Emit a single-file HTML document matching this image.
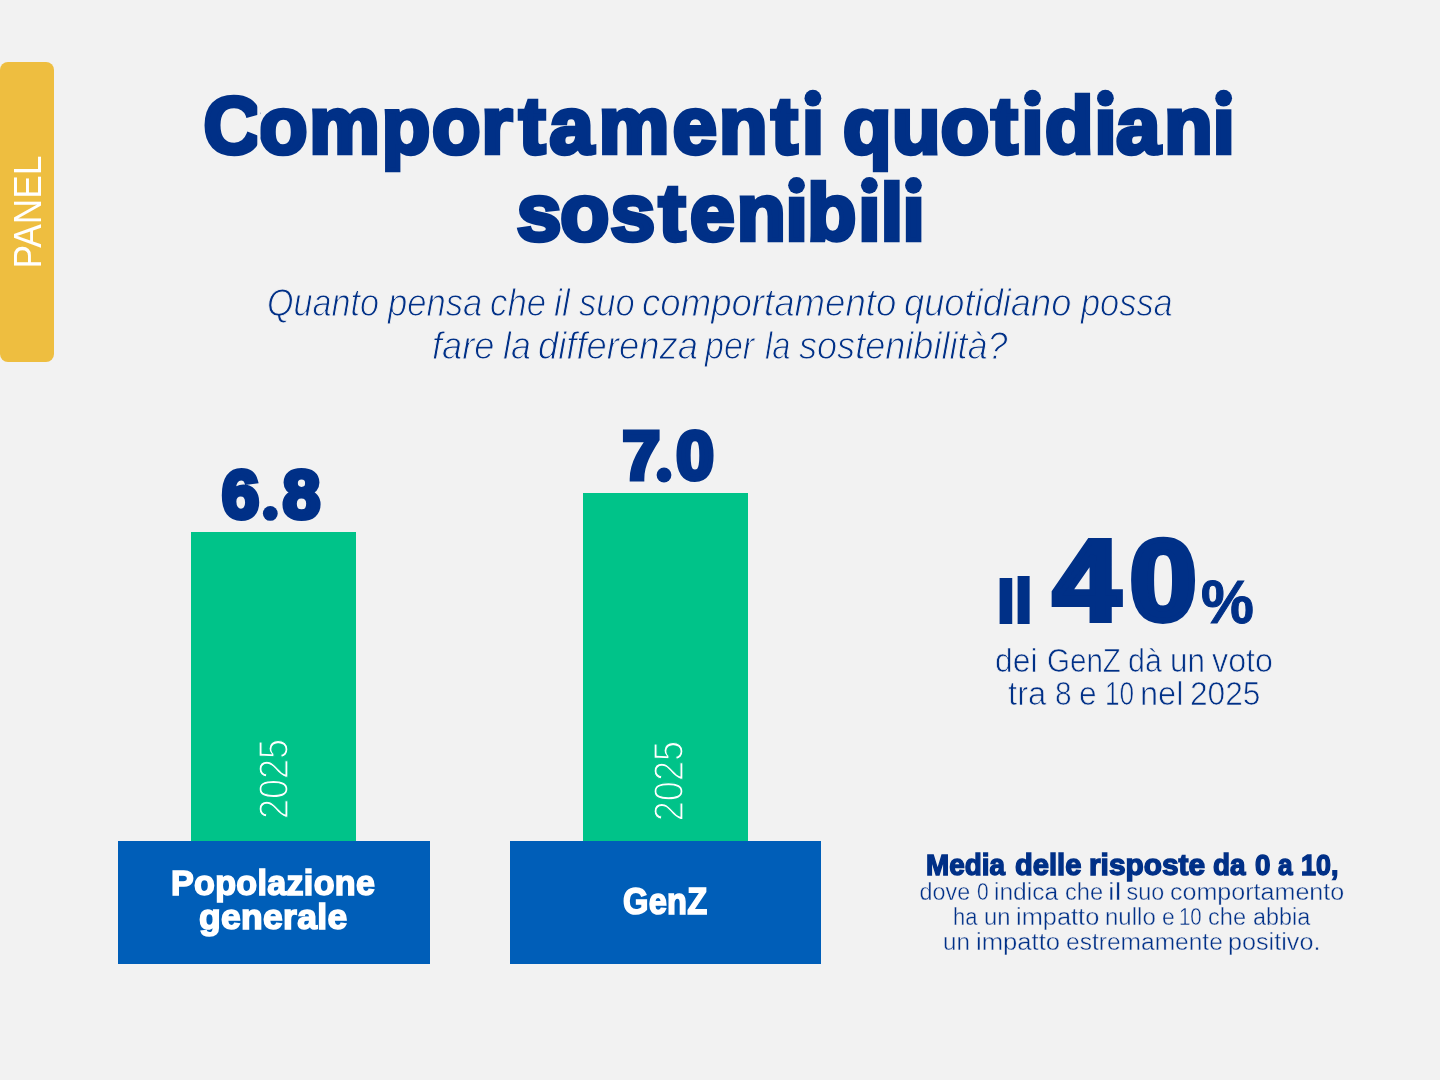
<!DOCTYPE html>
<html lang="it"><head><meta charset="utf-8"><title>Comportamenti quotidiani sostenibili</title>
<style>
html,body{margin:0;padding:0}
body{width:1440px;height:1080px;background:#f2f2f2;position:relative;overflow:hidden;font-family:"Liberation Sans",sans-serif}
.ln{margin:0;padding:0}
.t{position:absolute;display:block;white-space:nowrap;line-height:normal;margin:0;padding:0}
.r{position:absolute}
.big{left:0;top:0;font-weight:700;fill:#003087;pointer-events:none}
</style></head><body>
<aside class="tab"><div class="r" style="left:0px;top:62px;width:54px;height:299.6px;background:#eebe40;border-radius:8px"></div><p class="ln" style="color:#ffffff"><span class="t" style="left:41.4px;top:232.87px;font-size:39.33px;transform-origin:0 35.59px;transform:rotate(-90deg) scaleX(0.8969)">PANEL</span></p></aside>
<header><svg class="r big title" width="1440" height="1080" viewBox="0 0 1440 1080"><text transform="translate(0 152.75) scale(0.9913 1)" x="205.38 261.33 311.91 385.22 435.92 485.78 523.46 554.31 603.91 678.57 725.35 778.07 809.03" y="0" font-size="80" stroke="#003087" stroke-width="4.5">Comportamenti</text> <text transform="translate(0 152.75) scale(0.9903 1)" x="851.2 900.63 949.97 1000.93 1031.57 1055.35 1105.19 1127.09 1175.6 1224.59" y="0" font-size="80" stroke="#003087" stroke-width="4.5">quotidiani</text> <text transform="translate(0 240.15) scale(1.0030 1)" x="515.22 558.7 608.66 656.71 687.86 734.61 783.16 804.95 855.74 878.02 899.71" y="0" font-size="80" stroke="#003087" stroke-width="4.5">sostenibili</text> <rect x="257.3" y="88" width="3.2" height="72" fill="#f2f2f2"/> <g class="dots"><rect x="802.4" y="85.7" width="21" height="23.6" fill="#f2f2f2"/><circle cx="812.9" cy="98.2" r="8.4"/><rect x="1022" y="85.7" width="21" height="23.6" fill="#f2f2f2"/><circle cx="1032.5" cy="98.2" r="8.4"/><rect x="1094.9" y="85.7" width="21" height="23.6" fill="#f2f2f2"/><circle cx="1105.4" cy="98.2" r="8.4"/><rect x="1213.15" y="85.7" width="21" height="23.6" fill="#f2f2f2"/><circle cx="1223.65" cy="98.2" r="8.4"/><rect x="786.05" y="172.85" width="21" height="23.85" fill="#f2f2f2"/><circle cx="796.55" cy="185.35" r="8.4"/><rect x="858.85" y="172.85" width="21" height="23.85" fill="#f2f2f2"/><circle cx="869.35" cy="185.35" r="8.4"/><rect x="902.95" y="172.85" width="21" height="23.85" fill="#f2f2f2"/><circle cx="913.45" cy="185.35" r="8.4"/></g></svg><p class="ln" style="font-style:italic;color:#003087;-webkit-text-stroke:1px #f2f2f2"><span class="t" style="left:266.69px;top:281.61px;font-size:38px;transform-origin:0 34.39px;transform:scaleX(0.8988)">Quanto</span> <span class="t" style="left:387.99px;top:281.61px;font-size:38px;transform-origin:0 34.39px;transform:scaleX(0.9093)">pensa</span> <span class="t" style="left:489.84px;top:281.61px;font-size:38px;transform-origin:0 34.39px;transform:scaleX(0.9152)">che</span> <span class="t" style="left:554.38px;top:281.61px;font-size:38px;transform-origin:0 34.39px;transform:scaleX(0.9389)">il</span> <span class="t" style="left:579.39px;top:281.61px;font-size:38px;transform-origin:0 34.39px;transform:scaleX(0.9082)">suo</span> <span class="t" style="left:642.28px;top:281.61px;font-size:38px;transform-origin:0 34.39px;transform:scaleX(0.9633)">comportamento</span> <span class="t" style="left:904.29px;top:281.61px;font-size:38px;transform-origin:0 34.39px;transform:scaleX(0.9543)">quotidiano</span> <span class="t" style="left:1081.1px;top:281.61px;font-size:38px;transform-origin:0 34.39px;transform:scaleX(0.9044)">possa</span></p><p class="ln" style="font-style:italic;color:#003087;-webkit-text-stroke:1px #f2f2f2"><span class="t" style="left:432.22px;top:324.86px;font-size:38px;transform-origin:0 34.39px;transform:scaleX(0.9532)">fare</span> <span class="t" style="left:502.7px;top:324.86px;font-size:38px;transform-origin:0 34.39px;transform:scaleX(0.9414)">la</span> <span class="t" style="left:538.17px;top:324.86px;font-size:38px;transform-origin:0 34.39px;transform:scaleX(0.9581)">differenza</span> <span class="t" style="left:705.15px;top:324.86px;font-size:38px;transform-origin:0 34.39px;transform:scaleX(0.8952)">per</span> <span class="t" style="left:765.29px;top:324.86px;font-size:38px;transform-origin:0 34.39px;transform:scaleX(0.8589)">la</span> <span class="t" style="left:799.34px;top:324.86px;font-size:38px;transform-origin:0 34.39px;transform:scaleX(0.9495)">sostenibilità?</span></p></header>
<main>
<section class="bar"><svg class="r big val" width="1440" height="1080" viewBox="0 0 1440 1080"><text transform="translate(0 518.1) scale(0.9714 1)" x="228.23 268.76 291.06" y="0" font-size="69.4" stroke="#003087" stroke-width="5">6.8</text> <g class="dots"><rect x="261.6" y="503.5" width="17.4" height="19" fill="#f2f2f2"/><circle cx="270.3" cy="513.4" r="7.4"/></g></svg><div class="r" style="left:190.5px;top:531.8px;width:165.5px;height:309.5px;background:#00c389"></div><p class="ln" style="color:#ffffff;-webkit-text-stroke:1.3px #00c389"><span class="t" style="left:287.89px;top:780.88px;font-size:42px;transform-origin:0 38.01px;transform:rotate(-90deg) scaleX(0.8575)">2025</span></p><div class="r" style="left:118.3px;top:840.8px;width:311.7px;height:122.9px;background:#005eb8"></div><p class="ln" style="font-weight:700;color:#ffffff;-webkit-text-stroke:1.6px #ffffff;letter-spacing:0.3px"><span class="t" style="left:171.22px;top:863.03px;font-size:35px;transform-origin:0 31.68px;transform:scaleX(0.9750)">Popolazione</span></p><p class="ln" style="font-weight:700;color:#ffffff;-webkit-text-stroke:1.6px #ffffff;letter-spacing:0.3px"><span class="t" style="left:198.61px;top:896.53px;font-size:35px;transform-origin:0 31.68px;transform:scaleX(1.0148)">generale</span></p></section>
<section class="bar"><svg class="r big val" width="1440" height="1080" viewBox="0 0 1440 1080"><text transform="translate(0 479) scale(0.9874 1)" x="630.51 662.97 684.95" y="0" font-size="68.54" stroke="#003087" stroke-width="5">7.0</text> <g class="dots"><rect x="655.4" y="464.5" width="17.2" height="19" fill="#f2f2f2"/><circle cx="664" cy="475" r="7.4"/></g></svg><div class="r" style="left:583px;top:492.9px;width:165.3px;height:348.4px;background:#00c389"></div><p class="ln" style="color:#ffffff;-webkit-text-stroke:1.3px #00c389"><span class="t" style="left:682.67px;top:783.08px;font-size:42.27px;transform-origin:0 38.25px;transform:rotate(-90deg) scaleX(0.8537)">2025</span></p><div class="r" style="left:510px;top:840.8px;width:311px;height:122.9px;background:#005eb8"></div><p class="ln" style="font-weight:700;color:#ffffff;-webkit-text-stroke:1.6px #ffffff;letter-spacing:0.3px"><span class="t" style="left:623.11px;top:880.52px;font-size:36.51px;transform-origin:0 33.04px;transform:scaleX(0.8946)">GenZ</span></p></section>
<section class="stat"><svg class="r big val" width="1440" height="1080" viewBox="0 0 1440 1080"><text transform="translate(0 624.15) scale(1.3217 1)" x="751.94 765.24" y="0" font-size="66.3">Il</text> <text transform="translate(0 619.9) scale(1.0612 1)" x="992.21 1064.45" y="0" font-size="114.1" stroke="#003087" stroke-width="6">40</text></svg><p class="ln" style="font-weight:700;color:#003087;-webkit-text-stroke:1px #003087"><span class="t" style="left:1201.09px;top:567.25px;font-size:60.59px;transform-origin:0 54.83px;transform:scaleX(0.9807)">%</span></p><p class="ln" style="color:#003087;-webkit-text-stroke:0.7px #f2f2f2"><span class="t" style="left:995.46px;top:643.24px;font-size:32.5px;transform-origin:0 29.41px;transform:scaleX(0.9791)">dei</span> <span class="t" style="left:1046.88px;top:643.24px;font-size:32.5px;transform-origin:0 29.41px;transform:scaleX(0.9090)">GenZ</span> <span class="t" style="left:1128.06px;top:643.24px;font-size:32.5px;transform-origin:0 29.41px;transform:scaleX(0.9362)">dà</span> <span class="t" style="left:1169.82px;top:643.24px;font-size:32.5px;transform-origin:0 29.41px;transform:scaleX(0.9663)">un</span> <span class="t" style="left:1211.81px;top:643.24px;font-size:32.5px;transform-origin:0 29.41px;transform:scaleX(0.9936)">voto</span></p><p class="ln" style="color:#003087;-webkit-text-stroke:0.7px #f2f2f2"><span class="t" style="left:1008.26px;top:676.34px;font-size:32.5px;transform-origin:0 29.41px;transform:scaleX(1.0125)">tra</span> <span class="t" style="left:1055.41px;top:676.34px;font-size:32.5px;transform-origin:0 29.41px;transform:scaleX(0.9186)">8</span> <span class="t" style="left:1079.35px;top:676.34px;font-size:32.5px;transform-origin:0 29.41px;transform:scaleX(0.9749)">e</span> <span class="t" style="left:1104.98px;top:676.34px;font-size:32.5px;transform-origin:0 29.41px;transform:scaleX(0.8050)">10</span> <span class="t" style="left:1140.38px;top:676.34px;font-size:32.5px;transform-origin:0 29.41px;transform:scaleX(0.9997)">nel</span> <span class="t" style="left:1190.22px;top:676.34px;font-size:32.5px;transform-origin:0 29.41px;transform:scaleX(0.9751)">2025</span></p></section>
<footer><p class="ln" style="font-weight:700;color:#003087;-webkit-text-stroke:1.4px #003087"><span class="t" style="left:926.13px;top:847.78px;font-size:29.3px;transform-origin:0 26.52px;transform:scaleX(0.9500)">Media</span> <span class="t" style="left:1014.88px;top:847.78px;font-size:29.3px;transform-origin:0 26.52px;transform:scaleX(0.9945)">delle</span> <span class="t" style="left:1088.99px;top:847.78px;font-size:29.3px;transform-origin:0 26.52px;transform:scaleX(1.0183)">risposte</span> <span class="t" style="left:1213.3px;top:847.78px;font-size:29.3px;transform-origin:0 26.52px;transform:scaleX(0.9500)">da</span> <span class="t" style="left:1254.5px;top:847.78px;font-size:29.3px;transform-origin:0 26.52px;transform:scaleX(0.9500)">0</span> <span class="t" style="left:1278.34px;top:847.78px;font-size:29.3px;transform-origin:0 26.52px;transform:scaleX(0.8955)">a</span> <span class="t" style="left:1300.92px;top:847.78px;font-size:29.3px;transform-origin:0 26.52px;transform:scaleX(0.9174)">10,</span></p><p class="ln" style="color:#003087;-webkit-text-stroke:0.4px #f2f2f2"><span class="t" style="left:919.58px;top:878.81px;font-size:23.3px;transform-origin:0 21.09px;transform:scaleX(1.0000)">dove</span> <span class="t" style="left:977.19px;top:878.81px;font-size:23.3px;transform-origin:0 21.09px;transform:scaleX(0.8998)">0</span> <span class="t" style="left:994.07px;top:878.81px;font-size:23.3px;transform-origin:0 21.09px;transform:scaleX(1.0546)">indica</span> <span class="t" style="left:1065.34px;top:878.81px;font-size:23.3px;transform-origin:0 21.09px;transform:scaleX(1.0145)">che</span> <span class="t" style="left:1107.54px;top:878.81px;font-size:23.3px;transform-origin:0 21.09px;transform:scaleX(1.3002)">il</span> <span class="t" style="left:1126.54px;top:878.81px;font-size:23.3px;transform-origin:0 21.09px;transform:scaleX(1.0000)">suo</span> <span class="t" style="left:1169.88px;top:878.81px;font-size:23.3px;transform-origin:0 21.09px;transform:scaleX(1.0761)">comportamento</span></p><p class="ln" style="color:#003087;-webkit-text-stroke:0.4px #f2f2f2"><span class="t" style="left:952.83px;top:904.41px;font-size:23.3px;transform-origin:0 21.09px;transform:scaleX(0.9423)">ha</span> <span class="t" style="left:984.34px;top:904.41px;font-size:23.3px;transform-origin:0 21.09px;transform:scaleX(1.0213)">un</span> <span class="t" style="left:1016.19px;top:904.41px;font-size:23.3px;transform-origin:0 21.09px;transform:scaleX(1.0899)">impatto</span> <span class="t" style="left:1105.43px;top:904.41px;font-size:23.3px;transform-origin:0 21.09px;transform:scaleX(1.0314)">nullo</span> <span class="t" style="left:1161.98px;top:904.41px;font-size:23.3px;transform-origin:0 21.09px;transform:scaleX(0.9839)">e</span> <span class="t" style="left:1179.47px;top:904.41px;font-size:23.3px;transform-origin:0 21.09px;transform:scaleX(0.8776)">10</span> <span class="t" style="left:1208.08px;top:904.41px;font-size:23.3px;transform-origin:0 21.09px;transform:scaleX(1.0120)">che</span> <span class="t" style="left:1252.81px;top:904.41px;font-size:23.3px;transform-origin:0 21.09px;transform:scaleX(1.0027)">abbia</span></p><p class="ln" style="color:#003087;-webkit-text-stroke:0.4px #f2f2f2"><span class="t" style="left:943.07px;top:929.11px;font-size:23.3px;transform-origin:0 21.09px;transform:scaleX(1.0376)">un</span> <span class="t" style="left:975.81px;top:929.11px;font-size:23.3px;transform-origin:0 21.09px;transform:scaleX(1.0993)">impatto</span> <span class="t" style="left:1065.78px;top:929.11px;font-size:23.3px;transform-origin:0 21.09px;transform:scaleX(1.0532)">estremamente</span> <span class="t" style="left:1228.17px;top:929.11px;font-size:23.3px;transform-origin:0 21.09px;transform:scaleX(1.0811)">positivo.</span></p></footer>
</main>
</body></html>
